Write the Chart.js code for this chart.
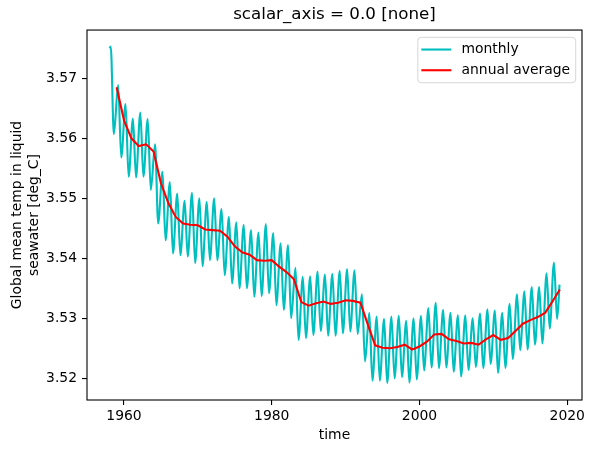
<!DOCTYPE html>
<html><head><meta charset="utf-8">
<script src="https://cdn.jsdelivr.net/npm/chart.js@4.4.1/dist/chart.umd.min.js"></script>
<style>html,body{margin:0;padding:0;background:#fff;}canvas{display:block;}</style>
</head><body>
<canvas id="c" width="595" height="453"></canvas>
<script>
// ---- data ----
const years = [1958,1959,1960,1961,1962,1963,1964,1965,1966,1967,1968,1969,1970,1971,1972,1973,1974,1975,1976,1977,1978,1979,1980,1981,1982,1983,1984,1985,1986,1987,1988,1989,1990,1991,1992,1993,1994,1995,1996,1997,1998,1999,2000,2001,2002,2003,2004,2005,2006,2007,2008,2009,2010,2011,2012,2013,2014,2015,2016,2017,2018];
// monthly series: first value (Jan 1958), yearly March maxima, yearly August minima, last value (Dec 2018)
const monthlyFirst = 3.5750;
const monthlyLast = 3.5356;
const peakMonth = 3;   // March
const troughMonth = 8; // August
const monthlyPeaks = [3.5753,3.5689,3.5657,3.5633,3.5643,3.5632,3.5590,3.5544,3.5527,3.5508,3.5496,3.5509,3.5500,3.5494,3.5500,3.5482,3.5469,3.5460,3.5456,3.5447,3.5443,3.5457,3.5442,3.5425,3.5422,3.5384,3.5369,3.5370,3.5378,3.5373,3.5374,3.5379,3.5382,3.5380,3.5340,3.5309,3.5303,3.5299,3.5303,3.5304,3.5296,3.5300,3.5304,3.5317,3.5326,3.5314,3.5309,3.5305,3.5305,3.5300,3.5308,3.5315,3.5313,3.5309,3.5324,3.5340,3.5345,3.5352,3.5352,3.5375,3.5393];
const monthlyTroughs = [3.5607,3.5568,3.5536,3.5535,3.5536,3.5514,3.5458,3.5430,3.5408,3.5405,3.5403,3.5392,3.5387,3.5397,3.5397,3.5372,3.5358,3.5350,3.5350,3.5336,3.5337,3.5342,3.5322,3.5314,3.5300,3.5264,3.5267,3.5272,3.5279,3.5271,3.5271,3.5275,3.5278,3.5274,3.5228,3.5196,3.5196,3.5192,3.5200,3.5202,3.5193,3.5198,3.5213,3.5218,3.5217,3.5218,3.5211,3.5203,3.5214,3.5219,3.5217,3.5224,3.5209,3.5217,3.5232,3.5247,3.5248,3.5256,3.5258,3.5283,3.5299];
// annual averages (plotted at year end)
const annualMeans = [3.5685,3.5630,3.5600,3.5587,3.5590,3.5578,3.5525,3.5492,3.5469,3.5458,3.5456,3.5455,3.5448,3.5447,3.5446,3.5436,3.5420,3.5410,3.5406,3.5397,3.5396,3.5397,3.5386,3.5377,3.5365,3.5327,3.5321,3.5325,3.5328,3.5324,3.5326,3.5330,3.5329,3.5326,3.5290,3.5255,3.5251,3.5250,3.5252,3.5256,3.5248,3.5253,3.5261,3.5273,3.5274,3.5265,3.5262,3.5258,3.5259,3.5256,3.5265,3.5272,3.5264,3.5267,3.5279,3.5291,3.5297,3.5302,3.5309,3.5328,3.5348];
const xTicks = [1960,1980,2000,2020];
const yTicks = [3.52,3.53,3.54,3.55,3.56,3.57];
const titleText = 'scalar_axis = 0.0 [none]';
const xLabel = 'time';
const yLabel = ['Global mean temp in liquid','seawater [deg_C]'];
const seriesNames = ['monthly','annual average'];

// ---- build library data ----
const dateToYear = (y, m) => y + (m - 0.5) / 12;
const monthlyPts = [{x: dateToYear(years[0], 1), y: monthlyFirst}];
years.forEach((yr, i) => {
  monthlyPts.push({x: dateToYear(yr, peakMonth), y: monthlyPeaks[i]});
  monthlyPts.push({x: dateToYear(yr, troughMonth), y: monthlyTroughs[i]});
});
monthlyPts.push({x: dateToYear(years[years.length-1], 12), y: monthlyLast});
const annualPts = years.map((yr, i) => ({x: yr + 1, y: annualMeans[i]}));

const FS = 13.9;
Chart.defaults.font.family = 'DejaVu Sans';
Chart.defaults.font.size = FS;
Chart.defaults.color = '#000';

const framePlugin = {
  id: 'frame',
  afterDatasetsDraw(chart) {
    const {ctx, chartArea: a} = chart;
    ctx.save();
    ctx.strokeStyle = '#000';
    ctx.lineWidth = 1.1;
    ctx.strokeRect(a.left, a.top, a.right - a.left, a.bottom - a.top);
    ctx.restore();
  }
};
const legendPlugin = {
  id: 'mplLegend',
  afterDraw(chart) {
    const {ctx, chartArea: a} = chart;
    ctx.save();
    ctx.font = FS + 'px "DejaVu Sans"';
    const ds = chart.data.datasets;
    let tw = 0;
    ds.forEach(d => { tw = Math.max(tw, ctx.measureText(d.label).width); });
    const w = 43.7 + tw + 5.6, h = 45.4;
    const x0 = a.right - 6.3 - w, y0 = a.top + 7.3;
    ctx.beginPath();
    ctx.roundRect(x0, y0, w, h, 3.5);
    ctx.fillStyle = 'rgba(255,255,255,0.8)';
    ctx.fill();
    ctx.strokeStyle = 'rgba(204,204,204,0.8)';
    ctx.lineWidth = 1;
    ctx.stroke();
    ds.forEach((d, i) => {
      const cy = y0 + 12.2 + i * 20.7;
      ctx.beginPath();
      ctx.moveTo(x0 + 3.5, cy);
      ctx.lineTo(x0 + 33.5, cy);
      ctx.strokeStyle = d.borderColor;
      ctx.lineWidth = 2.1;
      ctx.stroke();
      ctx.fillStyle = '#000';
      ctx.textBaseline = 'middle';
      ctx.textAlign = 'left';
      ctx.fillText(d.label, x0 + 43.7, cy);
    });
    ctx.restore();
  }
};

new Chart(document.getElementById('c'), {
  type: 'line',
  data: {
    datasets: [
      {label: seriesNames[0], data: monthlyPts, borderColor: '#00bfbf', borderWidth: 2.1, order: 2,
       pointRadius: 0, cubicInterpolationMode: 'monotone', fill: false},
      {label: seriesNames[1], data: annualPts, borderColor: '#ff0000', borderWidth: 2.1, order: 1,
       pointRadius: 0, tension: 0, fill: false}
    ]
  },
  options: {
    responsive: false,
    animation: false,
    layout: {padding: {left: 0, right: 13, top: 0, bottom: 0}},
    plugins: {
      legend: {display: false},
      tooltip: {enabled: false},
      title: {display: true, text: titleText, fullSize: false,
              font: {size: 16.7, weight: 'normal'}, color: '#000',
              padding: {top: 5, bottom: 5}}
    },
    scales: {
      x: {
        type: 'linear', min: 1954.99, max: 2022.0,
        afterFit(s) { s.height = 53; },
        afterBuildTicks(s) { s.ticks = xTicks.map(v => ({value: v})); },
        ticks: {callback: v => String(v), padding: 3, maxRotation: 0, autoSkip: false, color: '#000'},
        grid: {display: true, drawOnChartArea: false, drawTicks: true, tickLength: 5, color: '#000', lineWidth: 1.1},
        border: {display: false},
        title: {display: true, text: xLabel, color: '#000', font: {size: FS}, padding: {top: 0, bottom: 9.6}}
      },
      y: {
        type: 'linear', min: 3.51638, max: 3.57805,
        afterFit(s) { s.width = 87; },
        afterBuildTicks(s) { s.ticks = yTicks.map(v => ({value: v})); },
        ticks: {callback: v => v.toFixed(2), padding: 5, autoSkip: false, color: '#000'},
        grid: {display: true, drawOnChartArea: false, drawTicks: true, tickLength: 5, color: '#000', lineWidth: 1.1},
        border: {display: false},
        title: {display: true, text: yLabel, color: '#000', font: {size: FS}, padding: {top: 9, bottom: 0}}
      }
    }
  },
  plugins: [framePlugin, legendPlugin]
});
</script>
</body></html>
